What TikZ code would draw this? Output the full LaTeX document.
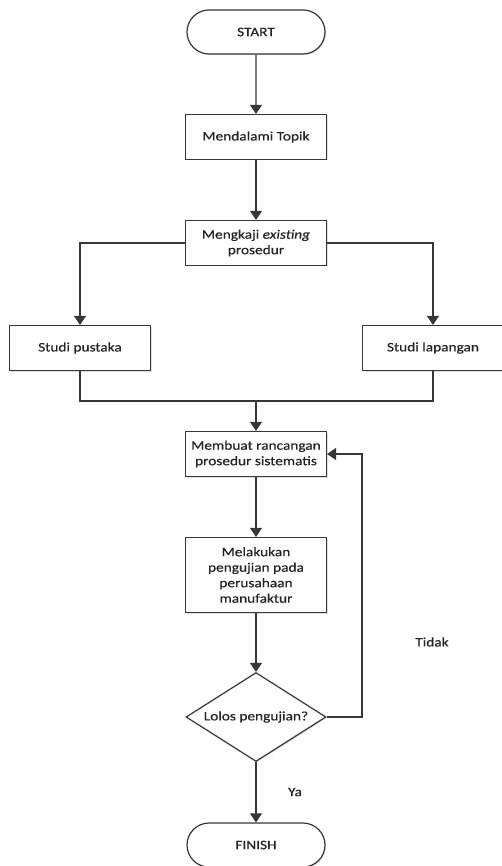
\documentclass[tikz,border=0pt]{standalone}
\usepackage{fontspec}
\usepackage{tikz}
\usepackage{xcolor}
\usetikzlibrary{shapes.misc,shapes.geometric,arrows.meta,shadows}
\setmainfont{Carlito}[FakeStretch=1.18, FakeBold=0.4]

\definecolor{linegray}{RGB}{55,55,55}
\definecolor{textgray}{RGB}{35,35,35}

\tikzset{
    box/.style={draw=linegray, line width=1.2pt, fill=white, text=textgray,
        minimum width=141pt, minimum height=45pt, inner sep=2pt, align=center,
        drop shadow={shadow xshift=1pt, shadow yshift=-1pt, opacity=0.25}},
    terminal/.style={box, rounded rectangle, minimum width=142pt, minimum height=44pt},
    decision/.style={box, diamond, shape aspect=1.57, inner sep=0pt,
        minimum width=140pt, minimum height=89pt},
    arr/.style={draw=linegray, line width=1.2pt, -{Triangle[width=12pt, length=9pt]}},
    line/.style={draw=linegray, line width=1.2pt},
    lbl/.style={text=textgray}
}

\begin{document}
\begin{tikzpicture}[x=1pt, y=-1pt, font=\fontsize{13}{15.5}\selectfont]
    \useasboundingbox (0,0) rectangle (501,866);

    % Nodes
    \node[terminal] (start) at (256,32) {START};
    \node[box] (topik) at (256,137) {Mendalami Topik};
    \node[box] (kaji) at (256,243) {Mengkaji \textit{existing}\\prosedur};
    \node[box] (pustaka) at (80,348) {Studi pustaka};
    \node[box] (lapangan) at (433,348) {Studi lapangan};
    \node[box] (rancang) at (256,454) {Membuat rancangan\\prosedur sistematis};
    \node[box, minimum height=75pt] (uji) at (256,575) {Melakukan\\pengujian pada\\perusahaan\\manufaktur};
    \node[decision] (lolos) at (256,717) {Lolos pengujian?};
    \node[terminal] (finish) at (256,845) {FINISH};

    % Helper points
    \coordinate (merge) at (256,401);
    \coordinate (loop) at (362,717);

    % Straight arrows
    \foreach \a/\b in {start/topik, topik/kaji, rancang/uji, uji/lolos, lolos/finish} {
        \draw[arr] (\a) -- (\b);
    }

    % Branch and merge
    \draw[arr] (kaji.west) -| (pustaka.north);
    \draw[arr] (kaji.east) -| (lapangan.north);
    \draw[line] (pustaka.south) |- (merge) -| (lapangan.south);
    \draw[arr] (merge) -- (rancang.north);

    % Feedback loop
    \draw[arr] (lolos.east) -- (loop) |- (rancang.east);

    % Labels
    \node[lbl] (tidak) at (432,642) {Tidak};
    \node[lbl] (ya) at (295,792) {Ya};
\end{tikzpicture}
\end{document}
